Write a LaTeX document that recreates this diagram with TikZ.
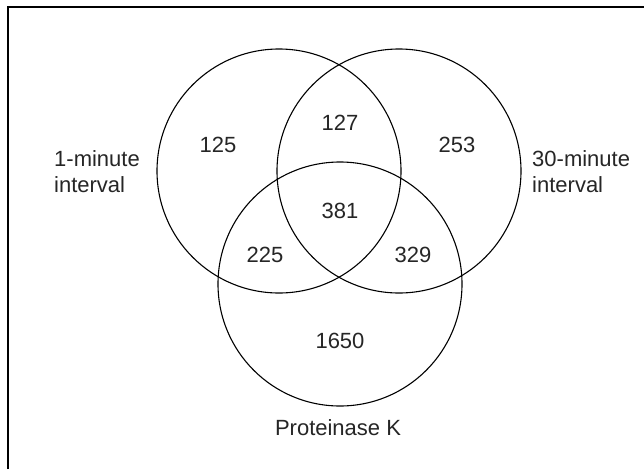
\documentclass[tikz,border=0pt]{standalone}
\usepackage{fontspec}
\setmainfont{Liberation Sans}
\begin{document}
\begin{tikzpicture}[x=1pt,y=-1pt,
  ring/.style={draw=black,line width=1.1pt},
  lbl/.style={font=\fontsize{22}{26}\selectfont,text=black!85,inner sep=0pt},
  side/.style={lbl,align=left,anchor=west}]
\useasboundingbox (0,0) rectangle (644,469);
\fill[white] (0,0) rectangle (644,469);
\draw[line width=1.4pt] (8,469) -- (8,7) -- (644,7);
\draw[ring] (279,171) circle (122);
\draw[ring] (399,171) circle (122);
\draw[ring] (340,284) circle (122);
\node[lbl] (a) at (218,145) {125};
\node[lbl] (ab) at (340,123) {127};
\node[lbl] (b) at (457,145) {253};
\node[lbl] (abc) at (340,211) {381};
\node[lbl] (ac) at (265,255) {225};
\node[lbl] (bc) at (413,255) {329};
\node[lbl] (c) at (340,341) {1650};
\node[lbl] (lc) at (338,428) {Proteinase K};
\node[side] (la) at (54,172) {1-minute\\interval};
\node[side] (lb) at (532,172) {30-minute\\interval};
\end{tikzpicture}
\end{document}
